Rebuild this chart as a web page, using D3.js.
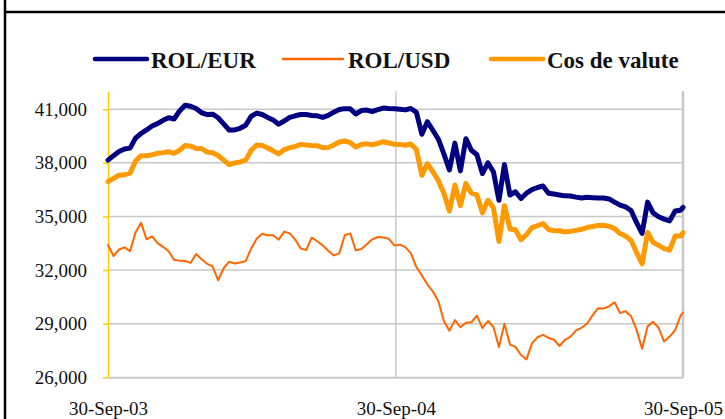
<!DOCTYPE html>
<html>
<head>
<meta charset="utf-8">
<script src="https://cdn.jsdelivr.net/npm/d3@7"></script>
<style>
  html, body { margin: 0; padding: 0; background: #fff; }
  svg { display: block; }
  text { font-family: "Liberation Serif", "Times New Roman", serif; fill: #111; }
</style>
</head>
<body>
<div id="chart"></div>
<script>
// weekly readings from 30-Sep-03 to 30-Sep-05
const rolEur = [
  38150, 38400, 38630, 38770, 38820, 39380, 39640, 39840, 40060, 40190,
  40380, 40520, 40450, 40900, 41220, 41160, 41040, 40800, 40700, 40720,
  40520, 40180, 39830, 39840, 39930, 40100, 40600, 40780, 40700, 40540,
  40390, 40160, 40340, 40540, 40630, 40700, 40700, 40650, 40630, 40540,
  40650, 40830, 40980, 41030, 41020, 40730, 40920, 40950, 40870, 40970,
  41060, 41040, 41030, 41000, 40960, 41040, 40830, 39600, 40300, 39820,
  39320, 38500, 37600, 39100, 37550, 39350, 38700, 38450, 37400, 38000,
  37500, 35900, 37900, 36200, 36380, 36000, 36300, 36500, 36620, 36700,
  36300, 36250, 36200, 36150, 36140, 36080, 36030, 36070, 36050, 36030,
  36030, 35980, 35800, 35630, 35530, 35330, 34650, 34050, 35800, 35200,
  34980, 34850, 34750, 35300, 35350, 35500
];
const rolUsd = [
  33400, 32780, 33150, 33270, 33050, 34100, 34650, 33720, 33880, 33510,
  33300, 33050, 32570, 32520, 32510, 32400, 32900, 32600, 32350, 32200,
  31430, 32100, 32470, 32370, 32420, 32500, 33200, 33750, 34030, 33950,
  33950, 33700, 34150, 34050, 33700, 33200, 33120, 33810, 33610, 33380,
  33080, 32820, 32930, 33950, 34050, 33100, 33180, 33450, 33720, 33850,
  33820, 33750, 33380, 33420, 33280, 32950, 32170, 31700, 31200, 30800,
  30250, 29150, 28600, 29200, 28800, 29050, 29080, 29450, 28750, 29150,
  28820, 27700, 29000, 27830, 27700, 27250, 27000, 27900, 28240, 28370,
  28200, 28100, 27750, 28100, 28270, 28630, 28770, 29000, 29470, 29860,
  29850, 29970, 30200, 29600, 29700, 29420, 28650, 27600, 28850, 29100,
  28770, 28000, 28280, 28640, 29450, 29620
];
const cosValute = [
  36950, 37130, 37300, 37330, 37420, 38100, 38400, 38390, 38450, 38530,
  38570, 38620, 38530, 38700, 38970, 38930, 38800, 38800, 38600, 38560,
  38410, 38150, 37900, 37990, 38050, 38150, 38700, 38990, 38970, 38830,
  38670, 38500, 38740, 38840, 38910, 39030, 38990, 38970, 38960, 38840,
  38860, 39000, 39160, 39220, 39130, 38880, 39020, 39060, 39010, 39090,
  39180, 39110, 39040, 39030, 38980, 39050, 38740, 37300, 37950, 37500,
  37000, 36300, 35300, 36750, 35600, 36850, 36300, 36200, 35200, 35900,
  35480, 33600, 35600, 34300, 34250, 33700, 33980, 34380, 34480, 34600,
  34270, 34200, 34200, 34130, 34170, 34220, 34280, 34380, 34440, 34490,
  34500, 34450, 34320, 34040, 33900, 33650, 32980, 32350, 34100, 33550,
  33380, 33200, 33110, 33900, 33900, 34100
];
const seriesNames = ["ROL/EUR", "ROL/USD", "Cos de valute"];
const seriesColors = ["#000080", "#FF6600", "#FF9900"];
const seriesWidths = [5, 2, 5];
const yTicks = [26000, 29000, 32000, 35000, 38000, 41000];
const xTickLabels = ["30-Sep-03", "30-Sep-04", "30-Sep-05"];

const serif = '"Liberation Serif", "Times New Roman", serif';
const parseDay = d3.timeParse("%d-%b-%y");
const startDate = parseDay(xTickLabels[0]);
const endDate = parseDay(xTickLabels[2]);
const dates = d3.range(rolEur.length - 1)
  .map(i => d3.timeDay.offset(startDate, 7 * i))
  .concat([endDate]);

const W = 725, H = 419;
const plot = { left: 108, right: 683, top: 91.3, bottom: 377.3 };

const x = d3.scaleTime().domain([startDate, endDate]).range([plot.left, plot.right]);
const y = d3.scaleLinear().domain([26000, 42000]).range([plot.bottom, plot.top]);

const svg = d3.select("#chart").append("svg")
  .attr("width", W).attr("height", H);

// frame
svg.append("line").attr("x1", 5).attr("x2", 5).attr("y1", 0).attr("y2", H)
  .attr("stroke", "#000").attr("stroke-width", 2.5);
svg.append("line").attr("x1", 5).attr("x2", W).attr("y1", 12).attr("y2", 12)
  .attr("stroke", "#000").attr("stroke-width", 2.5);

// horizontal grid
svg.append("g")
  .selectAll("line")
  .data(yTicks.slice(1))
  .join("line")
  .attr("x1", plot.left).attr("x2", plot.right)
  .attr("y1", d => y(d)).attr("y2", d => y(d))
  .attr("stroke", "#c8c8c8").attr("stroke-width", 1.5);

// vertical grid / right border
svg.append("g")
  .selectAll("line")
  .data(xTickLabels.slice(1).map(parseDay))
  .join("line")
  .attr("x1", d => x(d)).attr("x2", d => x(d))
  .attr("y1", plot.top).attr("y2", plot.bottom)
  .attr("stroke", "#c8c8c8").attr("stroke-width", d => +d === +endDate ? 2.5 : 1.5);

// x axis
const xAxis = svg.append("g")
  .attr("transform", `translate(0,${plot.bottom})`)
  .call(d3.axisBottom(x)
    .tickValues(xTickLabels.map(parseDay))
    .tickFormat(d3.timeFormat("%d-%b-%y"))
    .tickSize(0).tickPadding(24))
  .attr("font-family", serif)
  .attr("font-size", 19);
xAxis.select(".domain").attr("stroke", "#c8c8c8").attr("stroke-width", 2);
xAxis.selectAll("text").attr("fill", "#111");

// y axis
const yAxis = svg.append("g")
  .attr("transform", `translate(${plot.left},0)`)
  .call(d3.axisLeft(y)
    .tickValues(yTicks)
    .tickFormat(d3.format(","))
    .tickSizeInner(5).tickSizeOuter(0).tickPadding(16))
  .attr("font-family", serif)
  .attr("font-size", 19);
yAxis.select(".domain").attr("stroke", "#FFCC00").attr("stroke-width", 1.5);
yAxis.selectAll(".tick line").attr("stroke", "#FFCC00").attr("stroke-width", 1.5);
yAxis.selectAll("text").attr("fill", "#111");

// series
const series = [rolEur, rolUsd, cosValute];
const line = d3.line()
  .x((d, i) => x(dates[i]))
  .y(d => y(d));

svg.append("g")
  .selectAll("path")
  .data(series)
  .join("path")
  .attr("d", d => line(d))
  .attr("fill", "none")
  .attr("stroke", (d, i) => seriesColors[i])
  .attr("stroke-width", (d, i) => seriesWidths[i])
  .attr("stroke-linejoin", "round")
  .attr("stroke-linecap", "round");

// legend
const legendX = [95, 283, 491];
const legend = svg.append("g")
  .attr("font-family", serif)
  .selectAll("g")
  .data(seriesNames)
  .join("g")
  .attr("transform", (d, i) => `translate(${legendX[i]},59)`);
legend.append("line")
  .attr("x1", 0).attr("x2", (d, i) => i === 1 ? 60 : 52)
  .attr("stroke", (d, i) => seriesColors[i])
  .attr("stroke-width", (d, i) => i === 1 ? 2.5 : 4.5)
  .attr("stroke-linecap", "round");
legend.append("text")
  .attr("x", (d, i) => i === 1 ? 65 : 56)
  .attr("y", 9)
  .attr("font-size", 23)
  .attr("font-weight", "bold")
  .text(d => d);
</script>
</body>
</html>
